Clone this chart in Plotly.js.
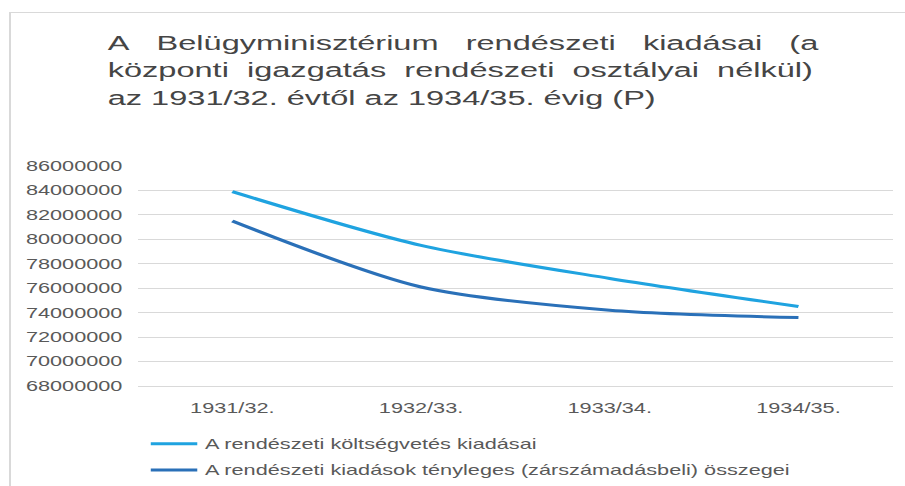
<!DOCTYPE html>
<html>
<head>
<meta charset="utf-8">
<script src="https://cdn.plot.ly/plotly-3.0.1.min.js"></script>
<style>
  html, body { margin: 0; padding: 0; background: #ffffff; overflow: hidden; }
  #wrap { position: relative; width: 905px; height: 486px; overflow: hidden; }
  #chart { position: absolute; left: 0; top: 0; width: 584px; height: 486px;
           transform: scaleX(1.55); transform-origin: 0 0; }
  #frame { position: absolute; left: 9px; top: 12px; width: 910px; height: 490px;
           border-top: 1px solid #d9d9d9; border-left: 2px solid #d9d9d9;
           pointer-events: none; }
</style>
</head>
<body>
<div id="wrap">
  <div id="chart"></div>
  <div id="frame"></div>
</div>
<script>
// Data
const categories = ["1931/32.", "1932/33.", "1933/34.", "1934/35."];
const budgetValues = [83900000, 79500000, 76800000, 74500000];
const actualValues = [81500000, 76100000, 74200000, 73600000];
const seriesNames = [
  "A rendészeti költségvetés kiadásai",
  "A rendészeti kiadások tényleges (zárszámadásbeli) összegei"
];
const yTicks = [68000000, 70000000, 72000000, 74000000, 76000000, 78000000,
                80000000, 82000000, 84000000, 86000000];
const titleLines = [
  "A\u00a0\u00a0 Belügyminisztérium\u00a0\u00a0 rendészeti\u00a0\u00a0 kiadásai\u00a0\u00a0 (a",
  "központi\u00a0 igazgatás\u00a0 rendészeti\u00a0 osztályai\u00a0 nélkül)",
  "az 1931/32. évtől az 1934/35. évig (P)"
];

const font = "Liberation Sans, Arial, sans-serif";
const textGray = "#595959";

const traces = [
  {
    type: "scatter", mode: "lines", x: categories, y: budgetValues,
    name: seriesNames[0], legendgroup: "a",
    line: { color: "#1FA3E0", width: 3, shape: "spline", smoothing: 0.8 }
  },
  {
    type: "scatter", mode: "lines", x: categories, y: actualValues,
    name: seriesNames[1], legendgroup: "b",
    line: { color: "#2A70B8", width: 3, shape: "spline", smoothing: 0.8 }
  }
];

const layout = {
  width: 584, height: 486,
  margin: { l: 89, r: 8, t: 166, b: 100, autoexpand: false },
  paper_bgcolor: "rgba(0,0,0,0)",
  plot_bgcolor: "rgba(0,0,0,0)",
  font: { family: font, size: 14, color: textGray },
  title: {
    text: titleLines.join("<br>"),
    font: { family: font, size: 21, color: "#454545" },
    xref: "container", x: 0.119, xanchor: "left",
    yref: "container", y: 0.897, yanchor: "top"
  },
  xaxis: {
    type: "category", range: [-0.5, 3.5],
    showgrid: false, zeroline: false,
    showline: true, linecolor: "#d9d9d9", linewidth: 1,
    ticks: "", ticklabelstandoff: 9, tickangle: 0, automargin: false,
    tickfont: { family: font, size: 14, color: textGray }
  },
  yaxis: {
    range: [68000000, 86000000],
    tickmode: "array", tickvals: yTicks, tickformat: "d",
    showgrid: true, gridcolor: "#d9d9d9", gridwidth: 1, automargin: false,
    zeroline: false, showline: false, ticks: "", ticklabelstandoff: 9,
    tickfont: { family: font, size: 14, color: textGray }
  },
  showlegend: true,
  legend: {
    orientation: "v", traceorder: "grouped", tracegroupgap: 5,
    xref: "container", yref: "container",
    x: 0.158, xanchor: "left", y: 0.119, yanchor: "top",
    bgcolor: "rgba(0,0,0,0)", borderwidth: 0,
    font: { family: font, size: 14, color: textGray }
  },
  hovermode: false
};

Plotly.newPlot("chart", traces, layout, { displayModeBar: false, staticPlot: true });
</script>
</body>
</html>
